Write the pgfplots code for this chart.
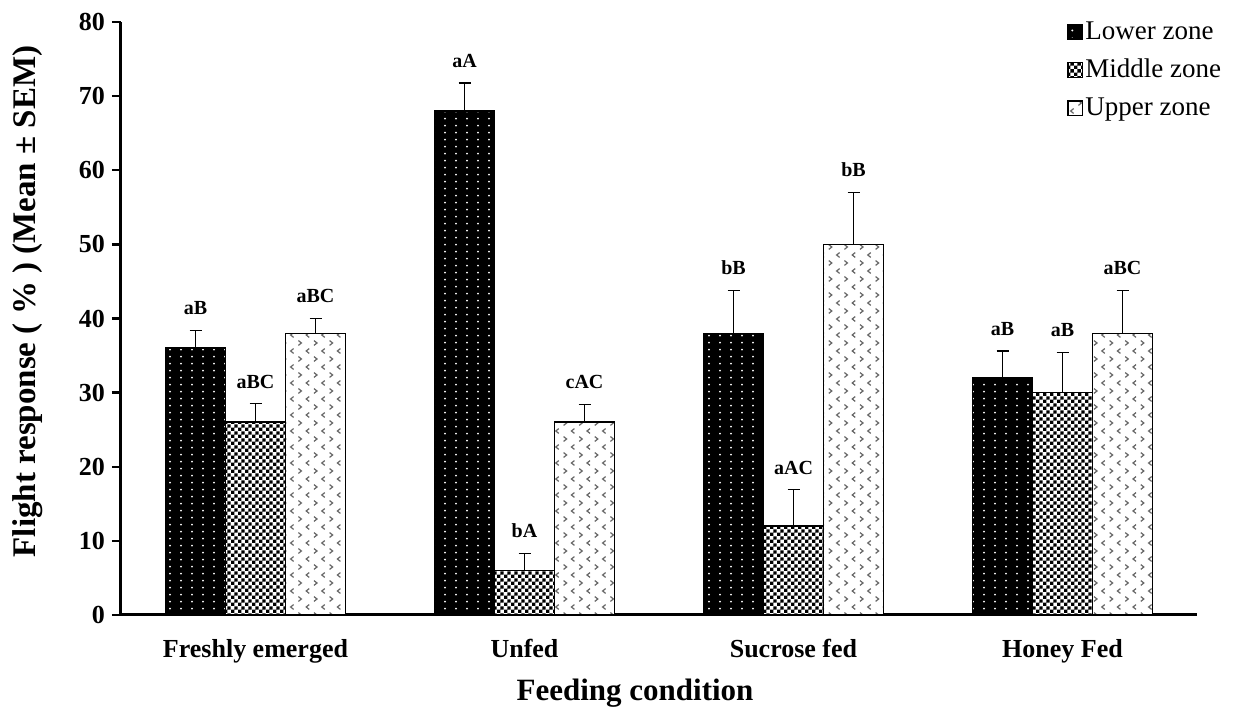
\documentclass[border=0pt]{standalone}
\usepackage{fontspec}
\setmainfont{Liberation Serif}
\usepackage{pgfplots}
\pgfplotsset{compat=1.18}
\usepackage{pgfplotstable}
\usetikzlibrary{patterns}

\pgfdeclarepatternformonly{lowdots}{\pgfpointorigin}{\pgfqpoint{5.5pt}{3.7pt}}{\pgfqpoint{5.5pt}{3.7pt}}{%
  \pgfpathcircle{\pgfqpoint{2.75pt}{1.85pt}}{0.55pt}\pgfusepath{fill}}
\pgfdeclarepatternformonly{checker}{\pgfpointorigin}{\pgfqpoint{3.4pt}{3.4pt}}{\pgfqpoint{3.4pt}{3.4pt}}{%
  \pgfpathrectangle{\pgfpointorigin}{\pgfqpoint{1.7pt}{1.7pt}}%
  \pgfpathrectangle{\pgfqpoint{1.7pt}{1.7pt}}{\pgfqpoint{1.7pt}{1.7pt}}\pgfusepath{fill}}
\pgfdeclarepatternformonly{chev}{\pgfqpoint{-1pt}{-1pt}}{\pgfqpoint{9pt}{9pt}}{\pgfqpoint{7.8pt}{8pt}}{%
  \pgfsetlinewidth{0.6pt}%
  \pgfpathmoveto{\pgfqpoint{1pt}{0.8pt}}\pgfpathlineto{\pgfqpoint{2.5pt}{2pt}}\pgfpathlineto{\pgfqpoint{1pt}{3.2pt}}%
  \pgfpathmoveto{\pgfqpoint{6.4pt}{4.8pt}}\pgfpathlineto{\pgfqpoint{4.9pt}{6pt}}\pgfpathlineto{\pgfqpoint{6.4pt}{7.2pt}}%
  \pgfusepath{stroke}}

\pgfplotstableread{
x y err lab
0 36 2.4 aB
1 68 3.8 aA
2 38 5.8 bB
3 32 3.6 aB
}\lowtab
\pgfplotstableread{
x y err lab
0 26 2.5 aBC
1 6 2.3 bA
2 12 4.9 aAC
3 30 5.4 aB
}\midtab
\pgfplotstableread{
x y err lab
0 38 2.0 aBC
1 26 2.4 cAC
2 50 7.0 bB
3 38 5.8 aBC
}\uptab

\begin{document}
\begin{tikzpicture}
\begin{axis}[name=ax,
  scale only axis, width=538pt, height=296.5pt,
  ybar=0pt, bar width=30pt,
  xmin=-0.5, xmax=3.5, ymin=0, ymax=80,
  axis x line*=bottom, axis y line*=left,
  axis line style={line width=1.5pt, black},
  xtick={0,1,2,3},
  xticklabels={Freshly emerged, Unfed, Sucrose fed, Honey Fed},
  x tick style={draw=none},
  ytick={0,10,...,80},
  y tick style={line width=1.2pt, black},
  tick align=outside, major tick length=4.5pt,
  tick label style={font=\fontsize{13}{15}\selectfont\bfseries},
  /pgf/number format/assume math mode=true,
  xticklabel style={anchor=base, yshift=-16.5pt},
  xlabel={Feeding condition},
  xlabel style={font=\fontsize{15.5}{18}\selectfont\bfseries, at={([yshift=-42.5pt,xshift=-12pt]axis description cs:0.5,0)}, anchor=base},
  ylabel={Flight response ( \% ) (Mean ± SEM)},
  ylabel style={font=\fontsize{16.5}{19}\selectfont\bfseries, at={([xshift=-42.5pt,yshift=8.5pt]axis description cs:0,0.5)}, anchor=base},
  legend style={draw=none, fill=none, at={(rel axis cs:1,1)}, anchor=north west,
    xshift=-68pt, yshift=4pt, font=\fontsize{13.5}{15}\selectfont, row sep=5.5pt,
    nodes={inner xsep=1.2pt, inner ysep=1.5pt}},
  legend cell align=left,
  point meta=explicit symbolic,
  nodes near coords,
  every node near coord/.append style={font=\fontsize{10}{12}\selectfont\bfseries, text=black, anchor=south, yshift=\err*3.70625pt+4pt},
  visualization depends on={\thisrow{err}\as\err},
  error bars/y dir=plus, error bars/y explicit,
  error bars/error bar style={line width=0.75pt, black},
  error bars/error mark options={rotate=90, line width=0.75pt, mark size=3pt, black},
  mylegend/.style={legend image code/.code={\draw[##1,line width=0.6pt] (0pt,-3.6pt) rectangle (7.2pt,3.6pt);}},
]
\addplot[draw=black, line width=0.8pt, fill=black, postaction={pattern=lowdots, pattern color=white}, mylegend]
  table[x=x, y=y, y error plus=err, meta=lab] {\lowtab};
\addplot[draw=black, line width=0.8pt, fill=white, postaction={pattern=checker, pattern color=black}, mylegend]
  table[x=x, y=y, y error plus=err, meta=lab] {\midtab};
\addplot[draw=black, line width=0.8pt, fill=white, postaction={pattern=chev, pattern color=black!60}, mylegend]
  table[x=x, y=y, y error plus=err, meta=lab] {\uptab};
\legend{Lower zone, Middle zone, Upper zone}
\end{axis}
\pgfresetboundingbox
\path[use as bounding box] ([shift={(-60.5pt,-50pt)}]ax.south west) rectangle ([shift={(20.5pt,11pt)}]ax.north east);
\end{tikzpicture}
\end{document}
